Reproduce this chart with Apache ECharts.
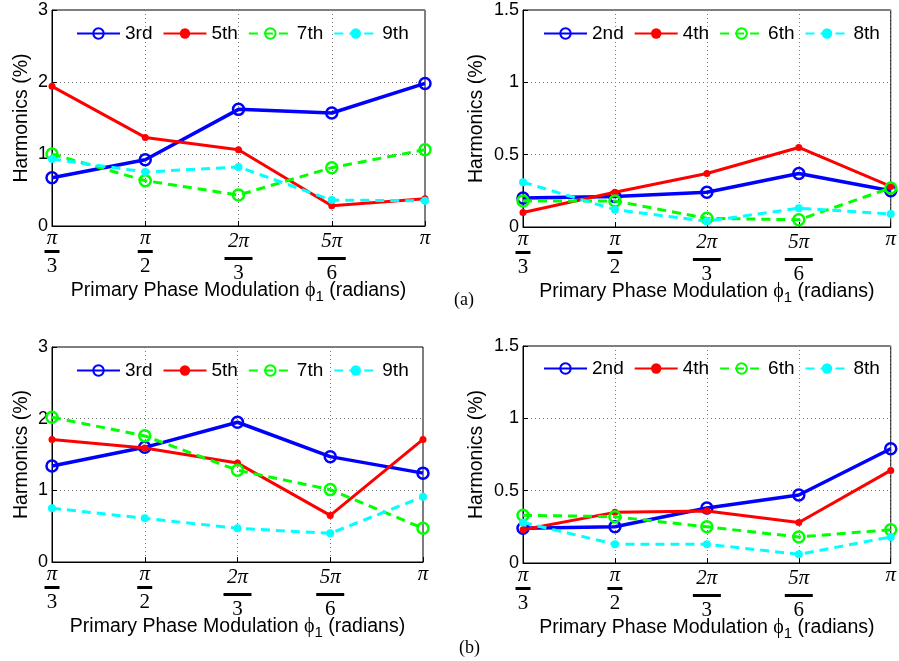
<!DOCTYPE html>
<html>
<head>
<meta charset="utf-8">
<script src="https://cdn.jsdelivr.net/npm/echarts@6/dist/echarts.min.js"></script>
<style>
  html, body { margin: 0; padding: 0; background: #fff; }
  #chart { width: 899px; height: 661px; }
</style>
</head>
<body>
<div id="chart"></div>
<script>
// x categories (phase modulation)
const xCats = ['π/3', 'π/2', '2π/3', '5π/6', 'π'];

// (a) odd harmonics
const a3rd = [0.67, 0.92, 1.62, 1.57, 1.98];
const a5th = [1.94, 1.23, 1.06, 0.28, 0.38];
const a7th = [1.00, 0.63, 0.43, 0.81, 1.06];
const a9th = [0.93, 0.75, 0.82, 0.36, 0.35];
// (a) even harmonics
const a2nd = [0.20, 0.21, 0.24, 0.37, 0.25];
const a4th = [0.10, 0.24, 0.37, 0.55, 0.28];
const a6th = [0.18, 0.18, 0.06, 0.05, 0.27];
const a8th = [0.31, 0.12, 0.04, 0.13, 0.09];

// (b) odd harmonics
const b3rd = [1.34, 1.60, 1.95, 1.47, 1.24];
const b5th = [1.71, 1.59, 1.38, 0.65, 1.71];
const b7th = [2.02, 1.76, 1.28, 1.01, 0.47];
const b9th = [0.75, 0.61, 0.47, 0.40, 0.91];
// (b) even harmonics
const b2nd = [0.24, 0.25, 0.38, 0.47, 0.79];
const b4th = [0.23, 0.35, 0.36, 0.28, 0.64];
const b6th = [0.33, 0.32, 0.25, 0.18, 0.23];
const b8th = [0.28, 0.13, 0.13, 0.06, 0.18];

const oddNames = ['3rd', '5th', '7th', '9th'];
const evenNames = ['2nd', '4th', '6th', '8th'];

const sansFont = '"Liberation Sans", Arial, sans-serif';
const serifFont = '"Liberation Serif", "DejaVu Serif", serif';

// line styles in plotting order: blue o-, red .-, green o--, cyan .--
const styles = [
  { color: '#0000ff', width: 3.5, type: 'solid', size: 11, hollow: true },
  { color: '#ff0000', width: 3, type: 'solid', size: 7, hollow: false },
  { color: '#00ff00', width: 3, type: [9, 6], size: 11, hollow: true },
  { color: '#00ffff', width: 3, type: [9, 6], size: 8, hollow: false }
];

function makeSeries(name, data, gi, si) {
  const s = styles[si];
  return {
    name: name,
    type: 'line',
    xAxisIndex: gi,
    yAxisIndex: gi,
    data: data,
    symbol: 'circle',
    symbolSize: s.size,
    color: s.color,
    lineStyle: { color: s.color, width: s.width, type: s.type },
    itemStyle: s.hollow
      ? { color: 'rgba(255,255,255,0)', borderColor: s.color, borderWidth: 2.5 }
      : { color: s.color, borderWidth: 0 },
    emphasis: { disabled: true },
    z: 3 + si
  };
}

const grids = [
  { left: 52, top: 10, width: 373, height: 216 },
  { left: 523, top: 10, width: 375, height: 217 },
  { left: 52, top: 347, width: 371, height: 215 },
  { left: 523, top: 346, width: 375, height: 217 }
];
const yMax = [3, 1.5, 3, 1.5];
const yStep = [1, 0.5, 1, 0.5];
const yNameGap = [20, 36, 20, 36];

// fraction tick labels: numerator, bar, denominator
function xLabel(v) {
  const parts = v.split('/');
  if (parts.length < 2) return '{n1|' + v + '}';
  const wide = parts[0].length > 1;
  return '{' + (wide ? 'n2' : 'n1') + '|' + parts[0] + '}\n{' +
    (wide ? 'bar2' : 'bar1') + '| }\n{d|' + parts[1] + '}';
}

const xAxes = grids.map((g, i) => ({
  type: 'category',
  gridIndex: i,
  data: xCats,
  boundaryGap: false,
  axisLine: { lineStyle: { color: '#000', width: 1 } },
  axisTick: { inside: true, length: 5, lineStyle: { color: '#000' } },
  splitLine: { show: true, lineStyle: { color: '#777', type: [1, 3], width: 1 } },
  axisLabel: {
    margin: 2,
    formatter: xLabel,
    color: '#000',
    rich: {
      n1: { fontFamily: serifFont, fontSize: 21, fontStyle: 'italic', lineHeight: 20, color: '#000' },
      n2: { fontFamily: serifFont, fontSize: 21, fontStyle: 'italic', lineHeight: 27, color: '#000' },
      bar1: { width: 15, height: 3, lineHeight: 7, backgroundColor: '#000' },
      bar2: { width: 28, height: 3, lineHeight: 7, backgroundColor: '#000' },
      d: { fontFamily: serifFont, fontSize: 21, lineHeight: 22, color: '#000' }
    }
  },
  name: 'Primary Phase Modulation {phi|ϕ}{sub|1} (radians)',
  nameLocation: 'middle',
  nameMoveOverlap: false,
  nameGap: 51,
  nameTextStyle: {
    fontFamily: sansFont,
    fontSize: 19.5,
    color: '#000',
    rich: {
      phi: { fontFamily: serifFont, fontSize: 20, color: '#000' },
      sub: { fontFamily: sansFont, fontSize: 15, padding: [12, 0, 0, 0], color: '#000' }
    }
  }
}));

const yAxes = grids.map((g, i) => ({
  type: 'value',
  gridIndex: i,
  min: 0,
  max: yMax[i],
  interval: yStep[i],
  axisLine: { show: true, lineStyle: { color: '#000', width: 1 } },
  axisTick: { show: true, inside: true, length: 5, lineStyle: { color: '#000' } },
  splitLine: { show: true, lineStyle: { color: '#777', type: [1, 3], width: 1 } },
  axisLabel: { margin: 4, color: '#000', fontFamily: sansFont, fontSize: 18 },
  name: 'Harmonics (%)',
  nameLocation: 'middle',
  nameGap: yNameGap[i],
  nameTextStyle: { fontFamily: sansFont, fontSize: 19.5, color: '#000' }
}));

const legendBase = {
  orient: 'horizontal',
  itemWidth: 43,
  itemHeight: 13,
  itemGap: 10,
  padding: 0,
  selectedMode: false,
  textStyle: { fontFamily: sansFont, fontSize: 19, color: '#000' }
};

const legends = [
  Object.assign({}, legendBase, { left: 76, top: 24, data: oddNames }),
  Object.assign({}, legendBase, { left: 543, top: 24, data: evenNames }),
  Object.assign({}, legendBase, { left: 76, top: 361, data: oddNames }),
  Object.assign({}, legendBase, { left: 543, top: 359, data: evenNames })
];

const series = [
  makeSeries('3rd', a3rd, 0, 0), makeSeries('5th', a5th, 0, 1),
  makeSeries('7th', a7th, 0, 2), makeSeries('9th', a9th, 0, 3),
  makeSeries('2nd', a2nd, 1, 0), makeSeries('4th', a4th, 1, 1),
  makeSeries('6th', a6th, 1, 2), makeSeries('8th', a8th, 1, 3),
  makeSeries('3rd', b3rd, 2, 0), makeSeries('5th', b5th, 2, 1),
  makeSeries('7th', b7th, 2, 2), makeSeries('9th', b9th, 2, 3),
  makeSeries('2nd', b2nd, 3, 0), makeSeries('4th', b4th, 3, 1),
  makeSeries('6th', b6th, 3, 2), makeSeries('8th', b8th, 3, 3)
];

const chart = echarts.init(document.getElementById('chart'));
chart.setOption({
  backgroundColor: '#fff',
  animation: false,
  grid: grids.map(g => Object.assign({ show: true, borderColor: '#000', borderWidth: 1 }, g)),
  xAxis: xAxes,
  yAxis: yAxes,
  legend: legends,
  series: series,
  graphic: [
    { type: 'text', left: 454, top: 291, style: { text: '(a)', font: '18px ' + serifFont, fill: '#000' } },
    { type: 'text', left: 459, top: 639, style: { text: '(b)', font: '18px ' + serifFont, fill: '#000' } }
  ]
});
</script>
</body>
</html>
